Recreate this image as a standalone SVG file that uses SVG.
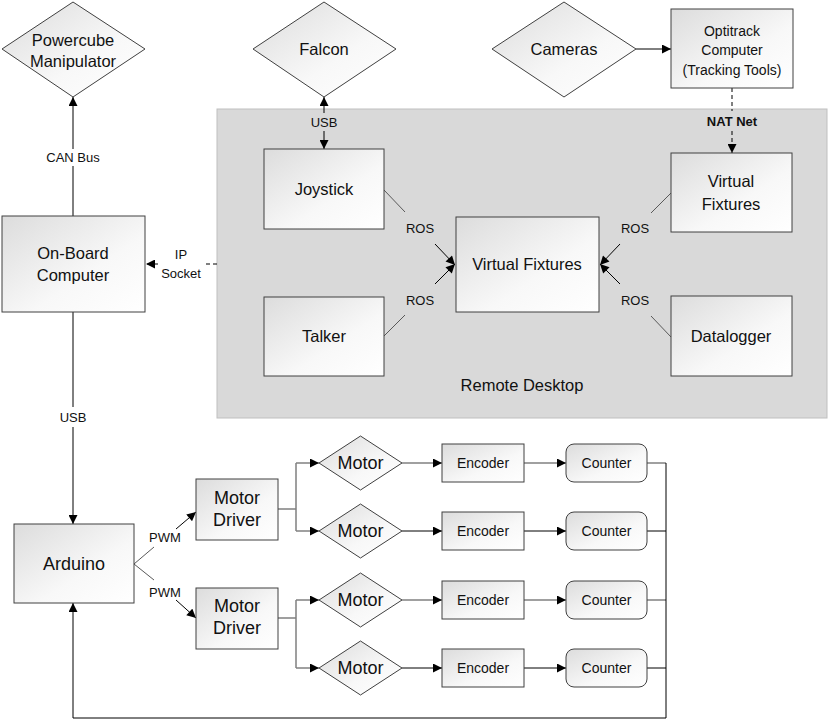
<svg xmlns="http://www.w3.org/2000/svg" width="833" height="721" viewBox="0 0 833 721">
<defs>
<linearGradient id="g" x1="0" y1="0" x2="1" y2="1">
<stop offset="0" stop-color="#dcdcdc"/>
<stop offset="0.6" stop-color="#f8f8f8"/>
<stop offset="1" stop-color="#ffffff"/>
</linearGradient>
<marker id="a" viewBox="0 0 10 10" refX="10" refY="5" markerWidth="10" markerHeight="9" markerUnits="userSpaceOnUse" orient="auto-start-reverse">
<path d="M0,0 L10,5 L0,10 z" fill="#000"/>
</marker>
</defs>
<style>
.n{fill:url(#g);stroke:#404040;stroke-width:1}
.t{font-family:"Liberation Sans",Arial,sans-serif;font-size:16.5px;fill:#111;text-anchor:middle}
.b{font-family:"Liberation Sans",Arial,sans-serif;font-size:18px;fill:#111;text-anchor:middle}
.s{font-family:"Liberation Sans",Arial,sans-serif;font-size:14px;fill:#111;text-anchor:middle}
.l{font-family:"Liberation Sans",Arial,sans-serif;font-size:13px;fill:#111;text-anchor:middle}
.c{fill:none;stroke:#000;stroke-width:1}
.gr{fill:none;stroke:#808080;stroke-width:1.5}
.ros{fill:none;stroke:#595959;stroke-width:1}
.d{fill:none;stroke:#000;stroke-width:1;stroke-dasharray:4 3}
</style>
<rect id="remote-desktop" x="217" y="109" width="610" height="309" fill="#d9d9d9" stroke="#bfbfbf"/>
<text class="t" x="522" y="391">Remote Desktop</text>

<g id="connectors">
<path class="c" d="M73,216 V166" />
<path class="c" d="M73,149 V97" marker-end="url(#a)"/>
<path class="d" d="M217,264 H206"/>
<path class="d" d="M158,264 H146" marker-end="url(#a)"/>
<path class="c" d="M324,113 V97" marker-end="url(#a)"/>
<path class="c" d="M324,131 V149" marker-end="url(#a)"/>
<path class="ros" d="M384,190 L405,212"/>
<path class="c" d="M435,244 L455,265" marker-end="url(#a)"/>
<path class="ros" d="M384,336 L405,315"/>
<path class="c" d="M435,284 L455,264" marker-end="url(#a)"/>
<path class="ros" d="M671,193 L651,213"/>
<path class="c" d="M620,244 L600,265" marker-end="url(#a)"/>
<path class="ros" d="M671,337 L651,316"/>
<path class="c" d="M620,284 L600,264" marker-end="url(#a)"/>
<path class="c" d="M636,49 H671" marker-end="url(#a)"/>
<path class="d" d="M732,88 V111"/>
<path class="d" d="M732,131 V153" marker-end="url(#a)"/>
<path class="c" d="M73,312 V407"/>
<path class="c" d="M73,427 V524" marker-end="url(#a)"/>
<path class="ros" d="M134,564 L154,547"/>
<path class="c" d="M176,529 L196,512" marker-end="url(#a)"/>
<path class="ros" d="M134,564 L154,580"/>
<path class="c" d="M176,600 L196,618" marker-end="url(#a)"/>
<path class="gr" d="M278,509 H296 M296,463 V531"/>
<path class="gr" d="M296,463 H319" marker-end="url(#a)"/>
<path class="gr" d="M296,531 H319" marker-end="url(#a)"/>
<path class="gr" d="M278,618 H296 M296,600 V668"/>
<path class="gr" d="M296,600 H319" marker-end="url(#a)"/>
<path class="gr" d="M296,668 H319" marker-end="url(#a)"/>
<path class="gr" d="M402,463 H442" marker-end="url(#a)"/>
<path class="gr" d="M524,463 H566" marker-end="url(#a)"/>
<path class="gr" d="M647,463 H666"/>
<path class="c" d="M402,531 H442" marker-end="url(#a)"/>
<path class="c" d="M524,531 H566" marker-end="url(#a)"/>
<path class="c" d="M647,531 H666"/>
<path class="gr" d="M402,600 H442" marker-end="url(#a)"/>
<path class="gr" d="M524,600 H566" marker-end="url(#a)"/>
<path class="gr" d="M647,600 H666"/>
<path class="c" d="M402,668 H442" marker-end="url(#a)"/>
<path class="c" d="M524,668 H566" marker-end="url(#a)"/>
<path class="c" d="M647,668 H666"/>
<path class="c" d="M666,463 V718 H73 V603" stroke-width="1.5" marker-end="url(#a)"/>
<text class="l" x="73" y="162">CAN Bus</text>
<text class="l" x="181" y="259">IP</text>
<text class="l" x="181" y="278">Socket</text>
<text class="l" x="324" y="127">USB</text>
<text class="l" x="420" y="233">ROS</text>
<text class="l" x="420" y="305">ROS</text>
<text class="l" x="635" y="233">ROS</text>
<text class="l" x="635" y="305">ROS</text>
<text class="l" x="732" y="126" font-weight="bold">NAT Net</text>
<text class="l" x="73" y="422">USB</text>
<text class="l" x="165" y="542">PWM</text>
<text class="l" x="165" y="597">PWM</text>
</g>

<g id="powercube"><polygon class="n" points="73,2 145,49 73,97 2,49"/><text class="t" x="73" y="46">Powercube</text><text class="t" x="73" y="67">Manipulator</text></g>
<g id="onboard"><rect class="n" x="2" y="216" width="143" height="96"/><text class="t" x="73" y="259">On-Board</text><text class="t" x="73" y="281">Computer</text></g>
<g id="falcon"><polygon class="n" points="324,2 396,49 324,97 253,49"/><text class="t" x="324" y="55">Falcon</text></g>
<g id="cameras"><polygon class="n" points="564,2 636,49 564,97 492,49"/><text class="t" x="564" y="55">Cameras</text></g>
<g id="optitrack"><rect class="n" x="671" y="9" width="122" height="79"/><text class="s" x="732" y="36">Optitrack</text><text class="s" x="732" y="55">Computer</text><text class="s" x="732" y="75">(Tracking Tools)</text></g>
<g id="joystick"><rect class="n" x="264" y="149" width="120" height="80"/><text class="t" x="324" y="195">Joystick</text></g>
<g id="talker"><rect class="n" x="264" y="297" width="120" height="79"/><text class="t" x="324" y="342">Talker</text></g>
<g id="vf-center"><rect class="n" x="456" y="217" width="143" height="95"/><text class="t" x="527" y="270">Virtual Fixtures</text></g>
<g id="vf-right"><rect class="n" x="671" y="153" width="121" height="79"/><text class="t" x="731" y="187">Virtual</text><text class="t" x="731" y="210">Fixtures</text></g>
<g id="datalogger"><rect class="n" x="671" y="296" width="121" height="80"/><text class="t" x="731" y="342">Datalogger</text></g>
<g id="arduino"><rect class="n" x="14" y="524" width="120" height="79"/><text class="b" x="74" y="570">Arduino</text></g>
<g id="driver1"><rect class="n" x="196" y="479" width="82" height="61"/><text class="b" x="237" y="504">Motor</text><text class="b" x="237" y="526">Driver</text></g>
<g id="driver2"><rect class="n" x="196" y="588" width="82" height="61"/><text class="b" x="237" y="612">Motor</text><text class="b" x="237" y="634">Driver</text></g>

<g id="motor1"><polygon class="n" points="360.5,436 402,463 360.5,490 319,463"/><text class="b" x="360.5" y="469">Motor</text></g>
<g id="motor2"><polygon class="n" points="360.5,504 402,531 360.5,558 319,531"/><text class="b" x="360.5" y="537">Motor</text></g>
<g id="motor3"><polygon class="n" points="360.5,573 402,600 360.5,627 319,600"/><text class="b" x="360.5" y="606">Motor</text></g>
<g id="motor4"><polygon class="n" points="360.5,641 402,668 360.5,695 319,668"/><text class="b" x="360.5" y="674">Motor</text></g>

<g id="encoder1"><rect class="n" x="442" y="444" width="82" height="38"/><text class="s" x="483" y="468">Encoder</text></g>
<g id="encoder2"><rect class="n" x="442" y="512" width="82" height="38"/><text class="s" x="483" y="536">Encoder</text></g>
<g id="encoder3"><rect class="n" x="442" y="581" width="82" height="38"/><text class="s" x="483" y="605">Encoder</text></g>
<g id="encoder4"><rect class="n" x="442" y="649" width="82" height="38"/><text class="s" x="483" y="673">Encoder</text></g>

<g id="counter1"><rect class="n" x="566" y="444" width="81" height="38" rx="8"/><text class="s" x="606.5" y="468">Counter</text></g>
<g id="counter2"><rect class="n" x="566" y="512" width="81" height="38" rx="8"/><text class="s" x="606.5" y="536">Counter</text></g>
<g id="counter3"><rect class="n" x="566" y="581" width="81" height="38" rx="8"/><text class="s" x="606.5" y="605">Counter</text></g>
<g id="counter4"><rect class="n" x="566" y="649" width="81" height="38" rx="8"/><text class="s" x="606.5" y="673">Counter</text></g>
</svg>
